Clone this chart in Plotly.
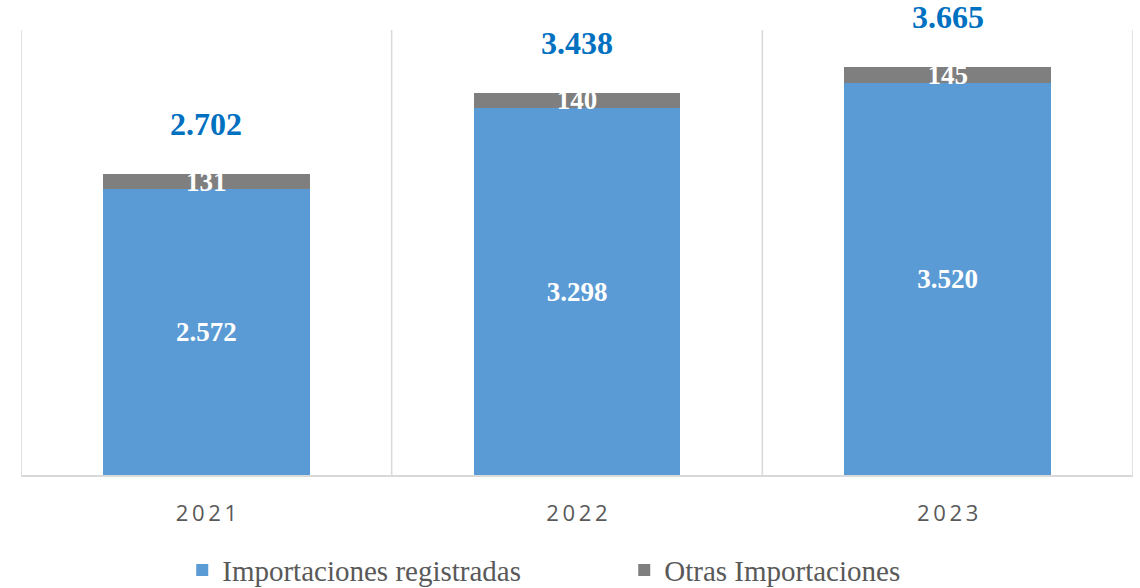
import plotly.graph_objects as go

years = ["2021", "2022", "2023"]
registradas = [2572, 3298, 3520]
otras = [131, 140, 145]
totales = [2702, 3438, 3665]

def fmt(v):
    return f"{v:,}".replace(",", ".")

xs = list(range(len(years)))
spaced = ["\u2009".join(y) for y in years]

fig = go.Figure()
fig.add_trace(go.Bar(
    x=xs, y=registradas, name="Importaciones registradas",
    marker=dict(color="#5B9BD5", line=dict(width=0)),
    text=[fmt(v) for v in registradas], textposition="inside",
    insidetextanchor="middle", constraintext="none",
    textfont=dict(family="Liberation Serif", size=27, color="white", weight="bold"),
    width=0.558,
))
fig.add_trace(go.Bar(
    x=xs, y=otras, name="Otras Importaciones",
    marker=dict(color="#7F7F7F", line=dict(width=0)),
    text=[fmt(v) for v in otras], textposition="inside",
    insidetextanchor="middle", constraintext="none",
    textfont=dict(family="Liberation Serif", size=27, color="white", weight="bold"),
    width=0.558,
))

for i, t in enumerate(totales):
    fig.add_annotation(x=xs[i], y=t, text=f"<b>{fmt(t)}</b>", showarrow=False,
                       yanchor="bottom", yshift=30,
                       font=dict(family="Liberation Serif", size=32, color="#0070C0"))

for b in [-0.5, 0.5, 1.5, 2.5]:
    fig.add_shape(type="line", x0=b, x1=b, y0=0, y1=4000, xref="x", yref="y",
                  line=dict(color="#D9D9D9", width=1.5), layer="below")

fig.update_layout(
    barmode="stack",
    width=1140, height=588,
    margin=dict(l=21, r=7, t=30, b=113, autoexpand=False),
    plot_bgcolor="white", paper_bgcolor="white",
    showlegend=True,
    legend=dict(orientation="h", x=0.145, xanchor="left", y=-0.214, yanchor="middle",
                font=dict(family="Liberation Serif", size=29, color="#595959"),
                itemwidth=30, traceorder="normal", entrywidth=397),
    xaxis=dict(range=[-0.5, 2.5], tickmode="array", tickvals=xs, ticktext=spaced,
               showgrid=False, zeroline=False, showline=True, linecolor="#D9D9D9", linewidth=1.5,
               ticks="", ticklabelstandoff=18,
               tickfont=dict(family="Open Sans", size=22, color="#595959")),
    yaxis=dict(range=[0, 4000], visible=False, showgrid=False, zeroline=False),
)

fig.write_html("out.html", config={"displayModeBar": False},
               post_script="document.body.style.margin='0px';")
